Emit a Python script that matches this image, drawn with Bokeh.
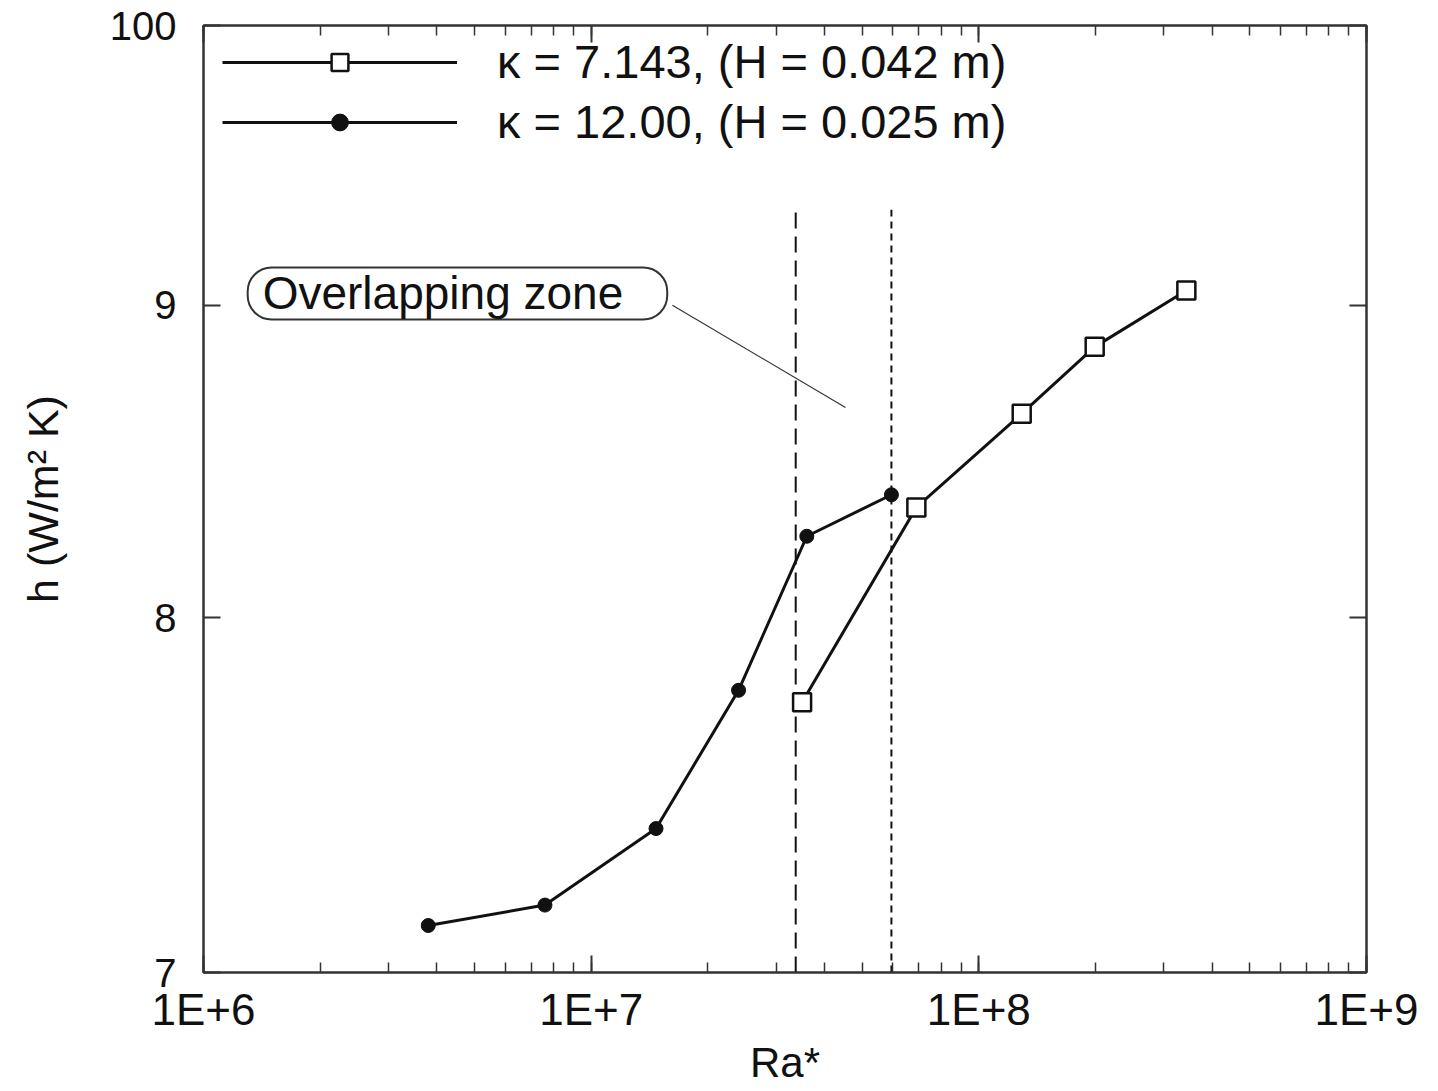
from bokeh.plotting import figure
from bokeh.models import (LogAxis, LogTicker, FixedTicker, Legend, LegendItem, Label,
                          CustomJSTickFormatter)
from bokeh.embed import file_html
from bokeh.resources import INLINE

# ---- data ----
ra_k7 = [3.5e7, 6.9e7, 1.29e8, 1.99e8, 3.43e8]
h_k7 = [7.75, 8.34, 8.64, 8.86, 9.05]
ra_k12 = [3.8e6, 7.6e6, 1.47e7, 2.4e7, 3.6e7, 5.95e7]
h_k12 = [7.125, 7.18, 7.39, 7.785, 8.25, 8.38]
label_k7 = "κ = 7.143, (H = 0.042 m)"
label_k12 = "κ = 12.00, (H = 0.025 m)"
zone_bounds = [3.37e7, 5.95e7]
zone_top = 9.33
x_ticks = [1e6, 1e7, 1e8, 1e9]
x_tick_labels = ["1E+6", "1E+7", "1E+8", "1E+9"]
y_ticks = [7, 8, 9, 10]
y_tick_labels = ["7", "8", "9", "100"]
note_text = "Overlapping zone"

FONT = "Liberation Sans"
INK = "#111111"

def lookup_formatter(vals, labs):
    return CustomJSTickFormatter(args=dict(tvals=vals, tlabs=labs), code="""
        for (let i = 0; i < tvals.length; i++) {
            if (Math.abs(tick - tvals[i]) <= 1e-6 * Math.abs(tvals[i])) { return tlabs[i]; }
        }
        return "";
    """)

p = figure(frame_width=1163, frame_height=947,
           x_axis_type="log", y_axis_type="log",
           x_range=(1e6, 1e9), y_range=(7, 10),
           output_backend="svg", toolbar_location=None,
           min_border_left=203, min_border_top=25,
           min_border_right=52, min_border_bottom=112)
p.grid.visible = False
p.outline_line_color = "#333333"
p.outline_line_width = 2
p.background_fill_color = "white"
p.border_fill_color = "white"

xticker = LogTicker(num_minor_ticks=10)
yticker = FixedTicker(ticks=y_ticks)

def style_axis(ax, labels=True):
    ax.axis_line_color = "#333333"
    ax.axis_line_width = 2
    ax.major_tick_line_color = "#333333"
    ax.major_tick_line_width = 2
    ax.minor_tick_line_color = "#333333"
    ax.minor_tick_line_width = 1.5
    ax.major_tick_out = 0
    ax.minor_tick_out = 0
    ax.major_tick_in = 17
    ax.minor_tick_in = 10
    ax.major_label_text_font = FONT
    ax.major_label_text_color = INK
    ax.axis_label_text_font = FONT
    ax.axis_label_text_font_style = "normal"
    ax.axis_label_text_color = INK
    if not labels:
        ax.major_label_text_font_size = "0px"
        ax.major_label_standoff = 0

xa = p.xaxis[0]
xa.ticker = xticker
style_axis(xa)
xa.formatter = lookup_formatter(x_ticks, x_tick_labels)
xa.major_label_text_font_size = "44px"
xa.major_label_standoff = 12
xa.axis_label = "Ra*"
xa.axis_label_text_font_size = "42px"
xa.axis_label_standoff = 2

ya = p.yaxis[0]
ya.ticker = yticker
style_axis(ya)
ya.minor_tick_in = 0
ya.formatter = lookup_formatter(y_ticks, y_tick_labels)
ya.major_label_text_font_size = "40px"
ya.major_label_standoff = 27
ya.axis_label = "h (W/m² K)"
ya.axis_label_text_font_size = "43px"
ya.axis_label_standoff = 40

top = LogAxis(ticker=xticker, formatter=lookup_formatter(x_ticks, ["", "", "", ""]))
style_axis(top, labels=False)
p.add_layout(top, "above")

right = LogAxis(ticker=yticker, formatter=lookup_formatter(y_ticks, ["", "", "", ""]))
style_axis(right, labels=False)
right.minor_tick_in = 0
p.add_layout(right, "right")

# overlapping zone boundaries
p.segment(x0=[zone_bounds[0]], y0=[7], x1=[zone_bounds[0]], y1=[zone_top],
          line_color=INK, line_width=2, line_dash="16 8")
p.segment(x0=[zone_bounds[1]], y0=[7], x1=[zone_bounds[1]], y1=[zone_top],
          line_color=INK, line_width=2, line_dash="7 5")

# leader line of the note
p.segment(x0=[1.62e7], y0=[9.0], x1=[4.53e7], y1=[8.66], line_color="#333333", line_width=1.2)

# series
l7 = p.line(ra_k7, h_k7, line_color=INK, line_width=3)
s7 = p.scatter(ra_k7, h_k7, marker="square", size=18, fill_color="white",
               line_color=INK, line_width=2.5)
l12 = p.line(ra_k12, h_k12, line_color=INK, line_width=3)
s12 = p.scatter(ra_k12, h_k12, marker="circle", size=14, fill_color=INK, line_color=INK)

legend = Legend(items=[LegendItem(label=label_k7, renderers=[l7, s7]),
                       LegendItem(label=label_k12, renderers=[l12, s12])],
                location=(19, 823), margin=0, padding=0,
                glyph_width=235, glyph_height=42, label_height=42,
                spacing=5, label_standoff=40,
                label_text_font=FONT, label_text_font_size="47px",
                label_text_color=INK,
                border_line_color=None, background_fill_alpha=0)
p.add_layout(legend)

note = Label(x=1.3e6, y=9.04, text=note_text, text_baseline="middle", text_align="left",
             text_font=FONT, text_font_size="46px", text_color=INK,
             border_line_color="#333333", border_line_width=2,
             background_fill_color="white",
             padding=dict(left=15, right=44, top=0, bottom=0), border_radius=24)
p.add_layout(note)

open("out.html", "w").write(file_html(p, INLINE))
